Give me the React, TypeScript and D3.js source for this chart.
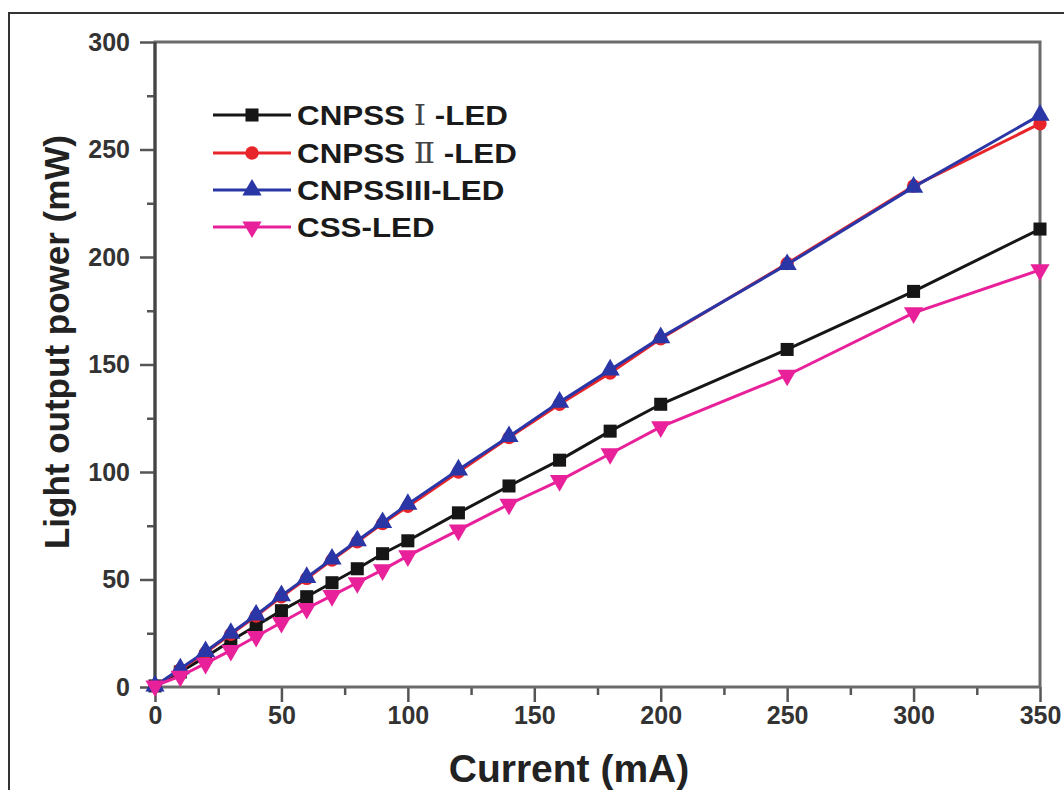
import React, { useEffect, useRef } from 'react';
import { scaleLinear, select, line, axisLeft, axisBottom, range, symbol, symbolSquare, symbolCircle, symbolTriangle } from 'd3';

// data
const current = [0, 10, 20, 30, 40, 50, 60, 70, 80, 90, 100, 120, 140, 160, 180, 200, 250, 300, 350];
const cnpss1 = [0.5, 7, 14, 21.5, 28.5, 35.5, 42, 48.5, 55, 62, 68, 81, 93.5, 105.5, 119, 131.5, 157, 184, 213];
const cnpss2 = [0.5, 8, 16, 24.5, 33, 42, 50.5, 59, 67.5, 76, 84, 100, 116, 131.5, 146, 162, 197, 233, 262];
const cnpss3 = [0.5, 8.5, 16.5, 25, 33.5, 42.5, 51, 59.5, 68, 76.5, 85, 101, 116.5, 132.5, 147.5, 162.5, 196.5, 232.5, 266];
const css = [0.5, 5, 11, 17, 23.5, 30, 36.5, 42.5, 48.5, 54.5, 61, 73, 85, 96, 108.5, 121, 145, 174, 194];

const seriesNames = ['CNPSS', 'CNPSS', 'CNPSSIII-LED', 'CSS-LED'];
const xTicks = [0, 50, 100, 150, 200, 250, 300, 350];
const yTicks = [0, 50, 100, 150, 200, 250, 300];

function App() {
  const svgRef = useRef(null);

  const width = 1064,
    height = 790,
    margin = { top: 42, right: 24, bottom: 103, left: 155 };

  useEffect(() => {
    const svg = select(svgRef.current);
    svg.selectAll('*').remove();

    const innerW = width - margin.left - margin.right;
    const innerH = height - margin.top - margin.bottom;

    // outer frame
    svg.append('rect')
      .attr('x', 9).attr('y', 13)
      .attr('width', 1080).attr('height', 800)
      .attr('fill', '#fff')
      .attr('stroke', '#333')
      .attr('stroke-width', 2);

    const g = svg.append('g')
      .attr('transform', `translate(${margin.left}, ${margin.top})`);

    const xScale = scaleLinear().domain([0, 350]).range([0, innerW]);
    const yScale = scaleLinear().domain([0, 300]).range([innerH, 0]);

    const font = 'Liberation Sans, Arial, sans-serif';

    // minor ticks
    g.append('g')
      .attr('transform', `translate(0, ${innerH})`)
      .call(axisBottom(xScale).tickValues(range(25, 350, 50)).tickSize(8).tickFormat(() => ''))
      .call(a => a.select('.domain').remove())
      .call(a => a.selectAll('line').attr('stroke', '#555').attr('stroke-width', 2.5));
    g.append('g')
      .call(axisLeft(yScale).tickValues(range(25, 300, 50)).tickSize(8).tickFormat(() => ''))
      .call(a => a.select('.domain').remove())
      .call(a => a.selectAll('line').attr('stroke', '#555').attr('stroke-width', 2.5));

    // major ticks + labels
    g.append('g')
      .attr('transform', `translate(0, ${innerH})`)
      .call(axisBottom(xScale).tickValues(xTicks).tickSize(15).tickPadding(4))
      .call(a => a.select('.domain').remove())
      .call(a => a.selectAll('line').attr('stroke', '#555').attr('stroke-width', 2.5))
      .call(a => a.selectAll('text').attr('font-family', font).attr('font-size', 25).attr('font-weight', 'bold').attr('fill', '#333'));
    g.append('g')
      .call(axisLeft(yScale).tickValues(yTicks).tickSize(15).tickPadding(10))
      .call(a => a.select('.domain').remove())
      .call(a => a.selectAll('line').attr('stroke', '#555').attr('stroke-width', 2.5))
      .call(a => a.selectAll('text').attr('font-family', font).attr('font-size', 25).attr('font-weight', 'bold').attr('fill', '#333'));

    // box
    g.append('rect')
      .attr('width', innerW).attr('height', innerH)
      .attr('fill', 'none')
      .attr('stroke', '#6b6b6b')
      .attr('stroke-width', 3);
    g.append('line')
      .attr('x1', 0).attr('x2', 0).attr('y1', 0).attr('y2', innerH)
      .attr('stroke', '#444').attr('stroke-width', 3);

    const series = [
      { values: cnpss1, color: '#161616', shape: symbolSquare, size: 170, rot: 0 },
      { values: cnpss2, color: '#e8252b', shape: symbolCircle, size: 140, rot: 0 },
      { values: cnpss3, color: '#2b36a6', shape: symbolTriangle, size: 160, rot: 0 },
      { values: css, color: '#e8219a', shape: symbolTriangle, size: 160, rot: 180 },
    ];

    const lineGenerator = line()
      .x((d, i) => xScale(current[i]))
      .y(d => yScale(d));

    series.forEach(s => {
      g.append('path')
        .datum(s.values)
        .attr('fill', 'none')
        .attr('stroke', s.color)
        .attr('stroke-width', 3)
        .attr('d', lineGenerator);
      g.selectAll(null)
        .data(s.values)
        .enter()
        .append('path')
        .attr('d', symbol().type(s.shape).size(s.size))
        .attr('fill', s.color)
        .attr('transform', (d, i) => `translate(${xScale(current[i])}, ${yScale(d)}) rotate(${s.rot})`);
    });

    // legend
    const legendY = [115, 153, 190, 227];
    series.forEach((s, i) => {
      const lg = svg.append('g').attr('transform', `translate(213, ${legendY[i]})`);
      lg.append('line')
        .attr('x1', 0).attr('x2', 78)
        .attr('stroke', s.color).attr('stroke-width', 3);
      lg.append('path')
        .attr('d', symbol().type(s.shape).size(s.size))
        .attr('fill', s.color)
        .attr('transform', `translate(39, 0) rotate(${s.rot})`);
      const t = lg.append('text')
        .attr('transform', 'translate(84, 10) scale(1.12, 1)')
        .attr('font-family', font)
        .attr('font-size', 28)
        .attr('font-weight', 'bold')
        .attr('fill', '#1a1a1a');
      if (i === 0 || i === 1) {
        t.append('tspan').text(seriesNames[i] + ' ');
        t.append('tspan')
          .attr('font-family', 'DejaVu Serif, serif')
          .attr('font-weight', 'normal')
          .attr('fill', '#444')
          .text(i === 0 ? 'Ⅰ' : 'Ⅱ');
        t.append('tspan').text(' -LED');
      } else {
        t.text(seriesNames[i]);
      }
    });

    // axis titles
    svg.append('text')
      .attr('x', 569).attr('y', 782)
      .attr('text-anchor', 'middle')
      .attr('font-family', font)
      .attr('font-size', 39)
      .attr('font-weight', 'bold')
      .attr('fill', '#222')
      .text('Current (mA)');
    svg.append('text')
      .attr('transform', 'translate(69, 342) rotate(-90)')
      .attr('text-anchor', 'middle')
      .attr('font-family', font)
      .attr('font-size', 35)
      .attr('font-weight', 'bold')
      .attr('fill', '#222')
      .text('Light output power (mW)');
  }, []);

  return (
    <div className='wrapper'>
      <svg ref={svgRef} width={width} height={height}
        style={{ position: 'absolute', left: 0, top: 0, background: '#fff' }}></svg>
    </div>
  );
}

export default App;
